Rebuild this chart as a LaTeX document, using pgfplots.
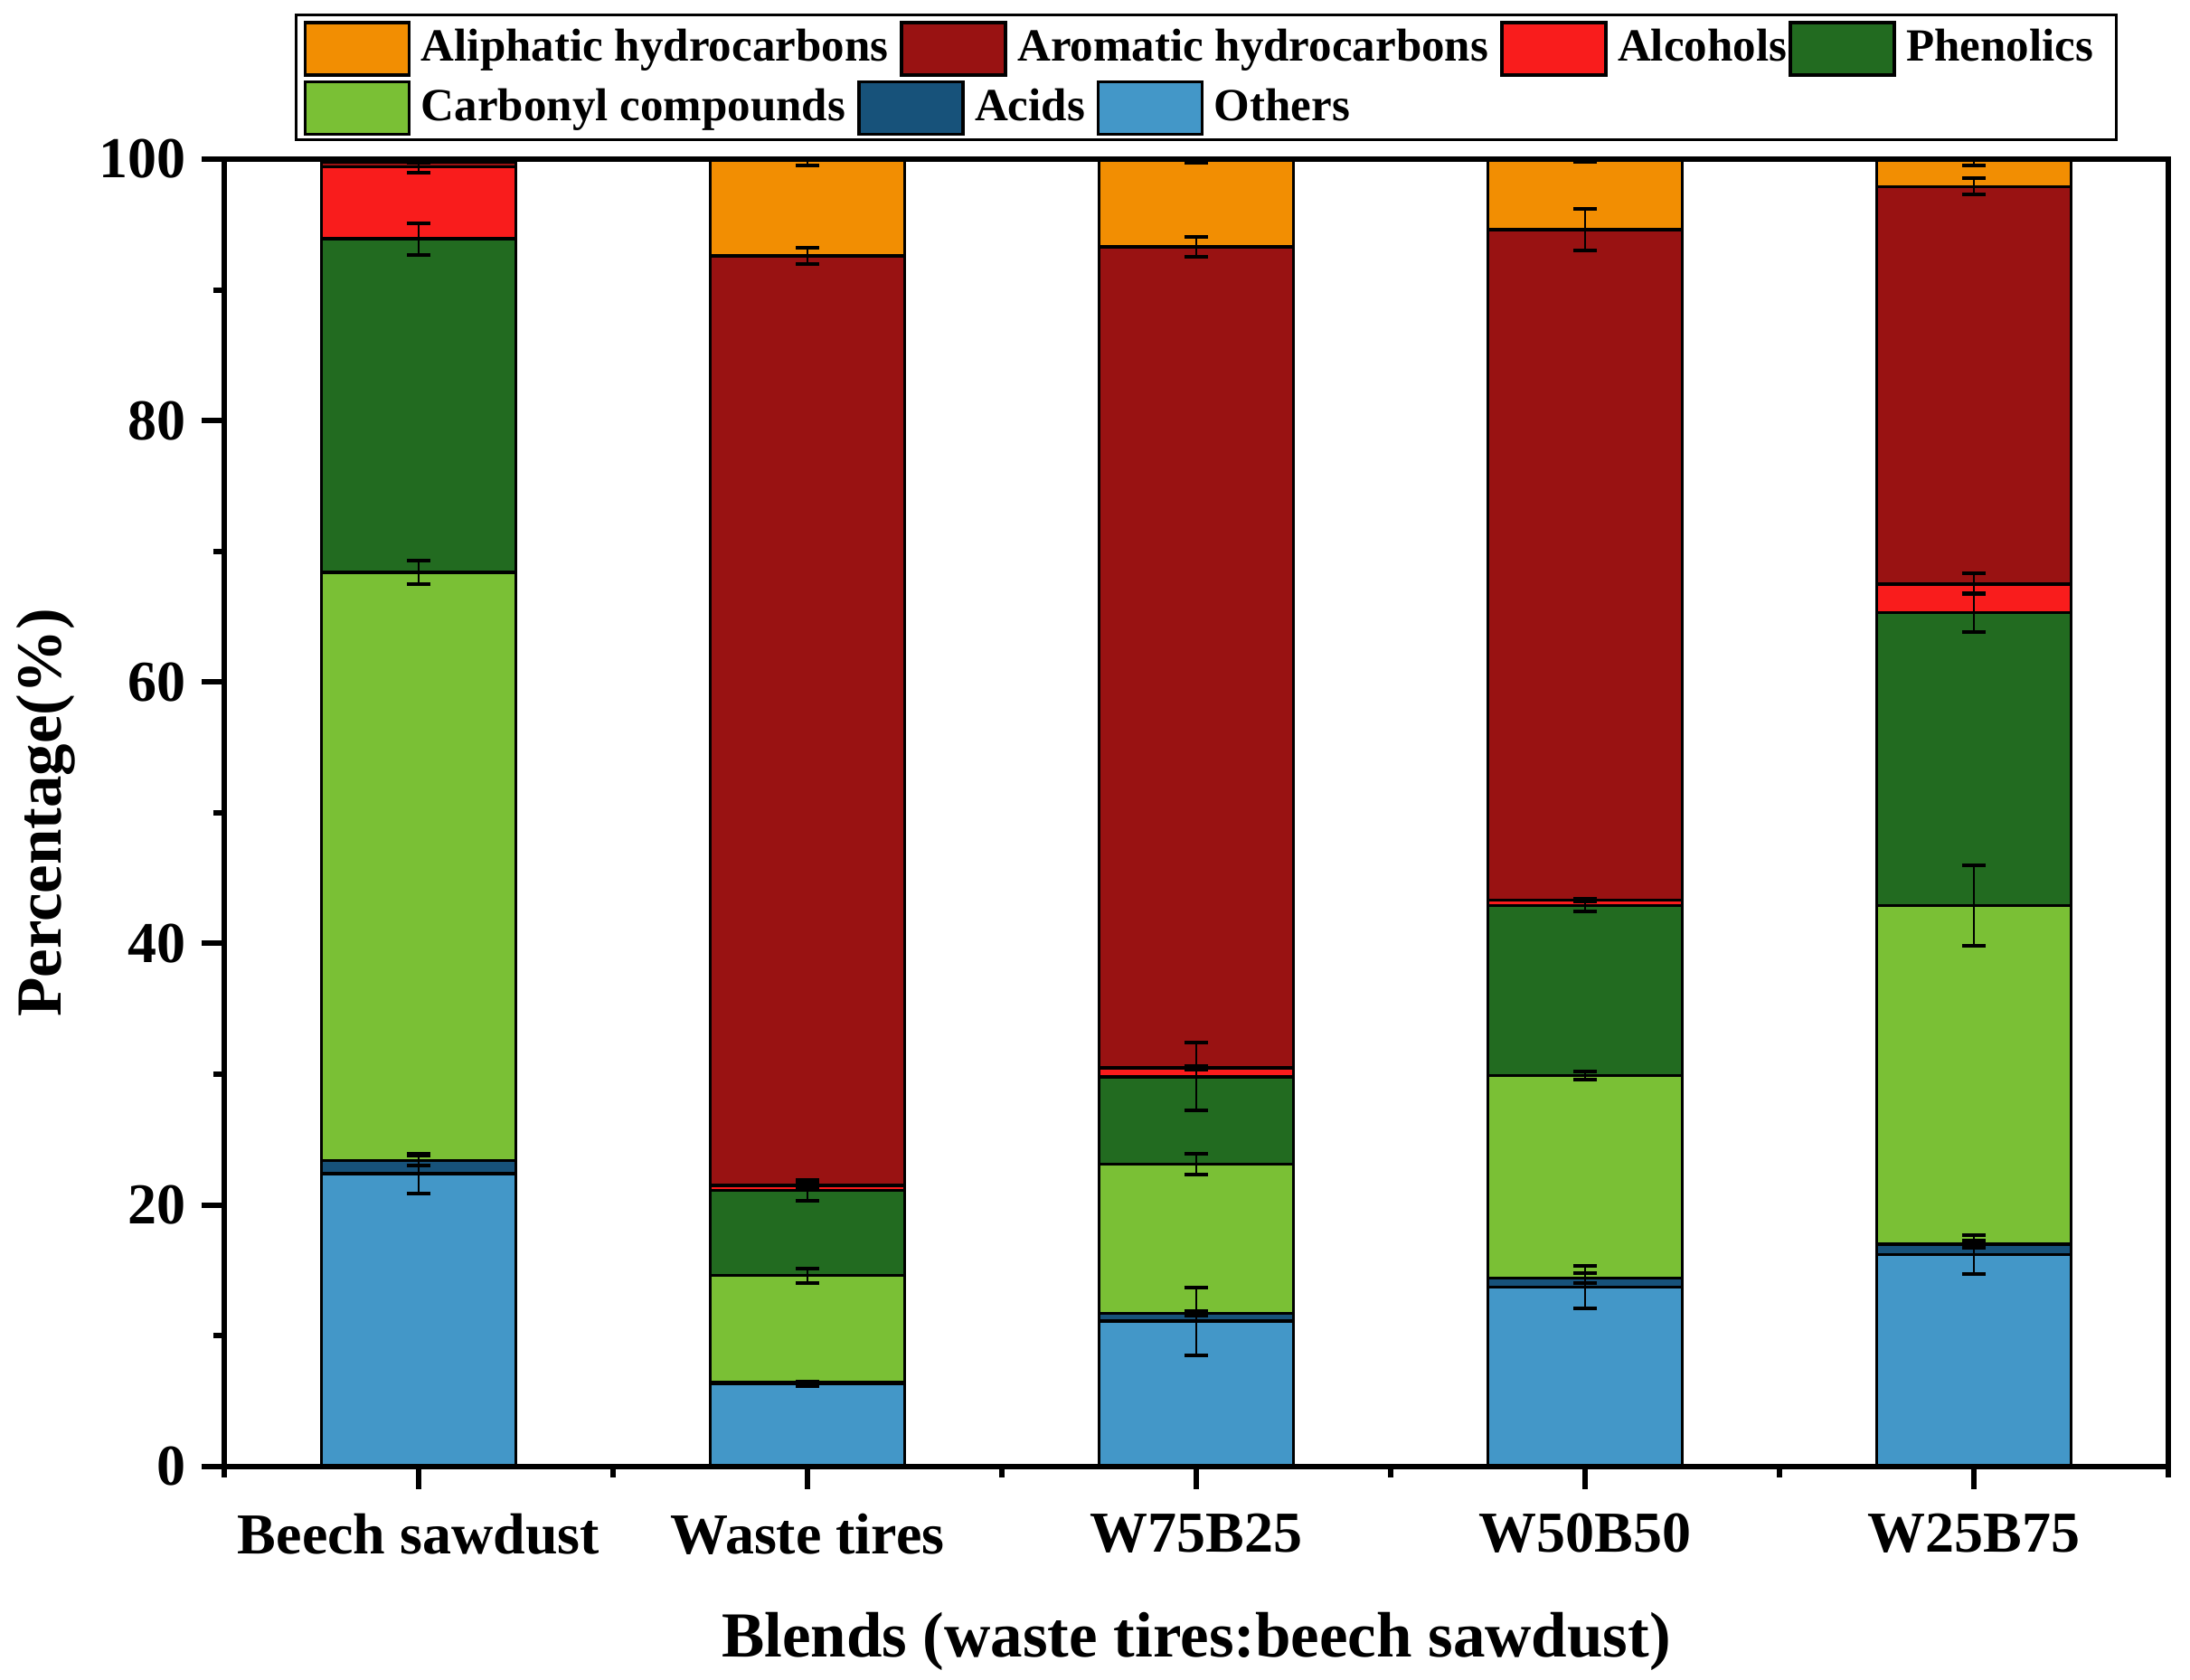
\documentclass[border=0pt]{standalone}
\usepackage{pgfplots}
\pgfplotsset{compat=1.18}
\usepackage{fontspec}
\setmainfont{Liberation Serif}
\definecolor{cAliph}{RGB}{242,142,2}
\definecolor{cArom}{RGB}{153,18,18}
\definecolor{cAlc}{RGB}{249,28,28}
\definecolor{cPhen}{RGB}{34,107,32}
\definecolor{cCarb}{RGB}{122,192,53}
\definecolor{cAcid}{RGB}{23,82,122}
\definecolor{cOth}{RGB}{67,151,200}
\pgfplotsset{
  common/.style={
    at={(0,0)}, anchor=south west, scale only axis,
    width=430pt, height=289.14pt,
    xmin=-0.5, xmax=4.5, ymin=0, ymax=100,
  },
  legrow/.style={
    hide axis,
    legend columns=-1,
    legend image code/.code={\draw[##1] (0pt,-5.8pt) rectangle (23pt,5.8pt);},
    legend style={draw=none, fill=none, inner sep=0pt, outer sep=0pt,
      anchor=west,
      font=\fontsize{10.2}{12}\selectfont\bfseries,
      nodes={inner sep=0pt},
      /tikz/every odd column/.append style={column sep=2.3pt},
      /tikz/every even column/.append style={column sep=2.6pt}},
  },
}
\begin{document}
\begin{tikzpicture}
\begin{axis}[common,
  ybar stacked, bar width=0.5,
  xtick={0,1,2,3,4},
  xticklabels={Beech sawdust, Waste tires, W75B25, W50B50, W25B75},
  minor xtick={-0.5,0.5,1.5,2.5,3.5,4.5},
  ytick={0,20,40,60,80,100}, minor ytick={10,30,50,70,90},
  xtick pos=bottom, ytick pos=left, tick align=outside,
  major tick length=5pt, minor tick length=2.4pt,
  every tick/.style={black, line width=1.2pt},
  axis line style={line width=1.2pt},
  axis on top,
  /pgf/number format/assume math mode=true,
  tick label style={font=\fontsize{12.8}{14}\selectfont\bfseries},
  xticklabel style={yshift=-1.9pt},
  label style={font=\fontsize{14.2}{16}\selectfont\bfseries},
  xlabel={Blends (waste tires:beech sawdust)},
  ylabel={Percentage(\%)},
  xlabel style={at={(axis description cs:0.5,-0.14595)}, anchor=base},
  ylabel style={at={(axis description cs:-0.08372,0.5)}, anchor=base, rotate=0},
  every axis plot/.append style={draw=black, line width=0.7pt},
]
\addplot[fill=cOth]   coordinates {(0,22.4) (1,6.3) (2,11.1) (3,13.7) (4,16.2)};
\addplot[fill=cAcid]  coordinates {(0,1.0) (1,0.1) (2,0.6) (3,0.7) (4,0.8)};
\addplot[fill=cCarb]  coordinates {(0,45.0) (1,8.2) (2,11.4) (3,15.5) (4,25.9)};
\addplot[fill=cPhen]  coordinates {(0,25.5) (1,6.5) (2,6.7) (3,13.0) (4,22.4)};
\addplot[fill=cAlc]   coordinates {(0,5.5) (1,0.4) (2,0.7) (3,0.4) (4,2.2)};
\addplot[fill=cArom]  coordinates {(0,0.4) (1,71.1) (2,62.8) (3,51.3) (4,30.4)};
\addplot[fill=cAliph] coordinates {(0,0.2) (1,7.4) (2,6.7) (3,5.4) (4,2.1)};
\end{axis}
\begin{axis}[common, legrow,
  legend style={at={(axis description cs:0.04093,1.08439)}}]
\addplot[forget plot, draw=none, mark=none,
  error bars/.cd, y dir=both, y explicit, error mark=|,
  error bar style={black, line width=0.45pt},
  error mark options={black, mark size=2.6pt, line width=0.8pt}]
  table[x=x, y=y, y error=e] {
x y e
0 22.4 1.5
0 23.4 0.4
0 68.4 0.9
0 93.9 1.2
0 99.4 0.45
0 99.8 0.1
0 100 0.1
1 6.3 0.15
1 6.4 0.1
1 14.6 0.55
1 21.1 0.8
1 21.5 0.15
1 92.6 0.65
1 100 0.5
2 11.1 2.6
2 11.7 0.2
2 23.1 0.8
2 29.8 2.6
2 30.5 0.15
2 93.3 0.75
2 100 0.3
3 13.7 1.6
3 14.4 0.35
3 29.9 0.33
3 42.9 0.45
3 43.3 0.1
3 94.6 1.6
3 100 0.2
4 16.2 1.5
4 17.0 0.3
4 42.9 3.07
4 65.3 1.48
4 67.5 0.8
4 97.9 0.62
4 100 0.5
};
\addlegendimage{fill=cAliph, draw=black, line width=0.7pt}
\addlegendentry{Aliphatic hydrocarbons}
\addlegendimage{fill=cArom, draw=black, line width=0.7pt}
\addlegendentry{Aromatic hydrocarbons}
\addlegendimage{fill=cAlc, draw=black, line width=0.7pt}
\addlegendentry{Alcohols\hspace*{-2.2pt}}
\addlegendimage{fill=cPhen, draw=black, line width=0.7pt}
\addlegendentry{Phenolics}
\end{axis}
\begin{axis}[common, legrow,
  legend style={at={(axis description cs:0.04093,1.03908)}}]
\addlegendimage{fill=cCarb, draw=black, line width=0.7pt}
\addlegendentry{Carbonyl compounds}
\addlegendimage{fill=cAcid, draw=black, line width=0.7pt}
\addlegendentry{Acids}
\addlegendimage{fill=cOth, draw=black, line width=0.7pt}
\addlegendentry{Others}
\end{axis}
\draw[line width=0.6pt] (15.8pt,293.34pt) rectangle (418.4pt,320.94pt);
\pgfresetboundingbox
\useasboundingbox (-49.6pt,-47.26pt) rectangle (434.8pt,324.34pt);
\end{tikzpicture}
\end{document}
